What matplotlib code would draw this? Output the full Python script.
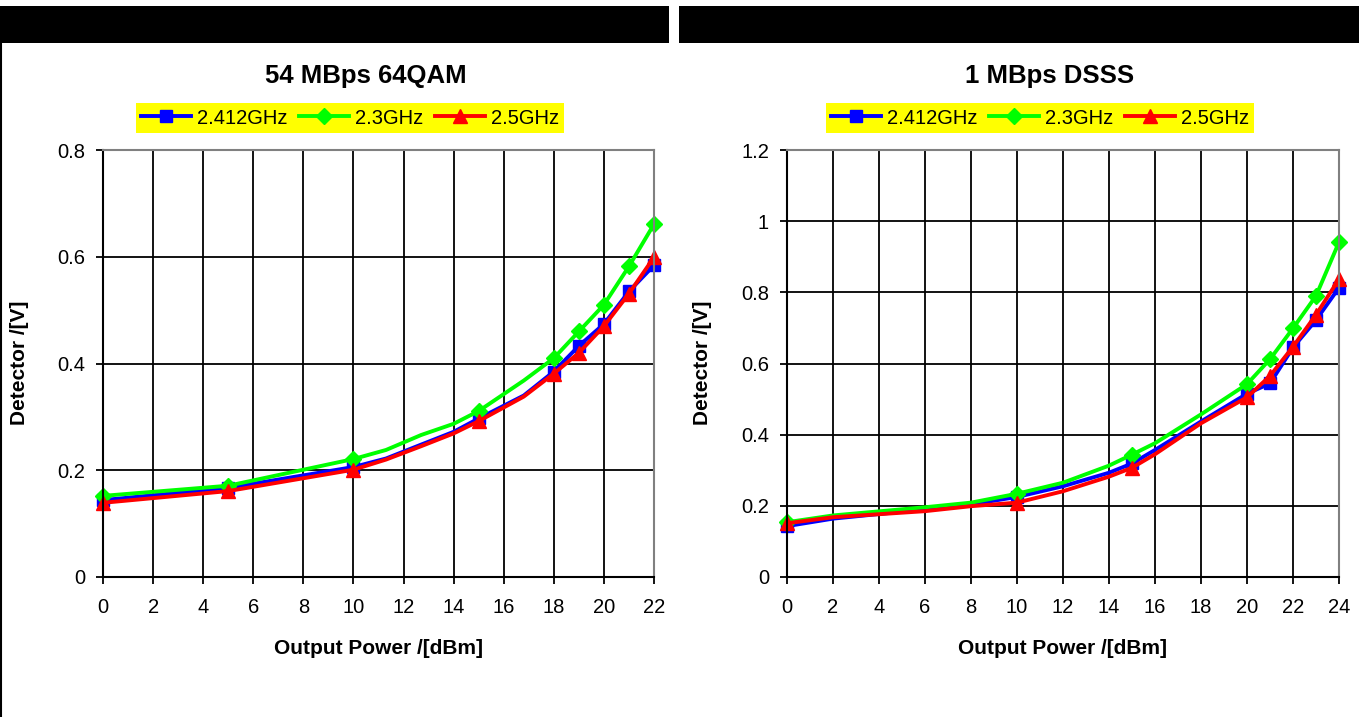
import matplotlib
matplotlib.use("Agg")
import matplotlib.pyplot as plt
from matplotlib.patches import Rectangle
from matplotlib.lines import Line2D

plt.rcParams['font.family'] = ['Liberation Sans', 'DejaVu Sans']

# ---------------- data ----------------
series_names = ["2.412GHz", "2.3GHz", "2.5GHz"]
series_colors = ["#0000FF", "#00FF00", "#FF0000"]
series_markers = ["s", "D", "^"]

# Left panel: 54 MBps 64QAM
left_title = "54 MBps 64QAM"
left_x = [0, 5, 10, 11.3, 12.7, 14, 15, 16.8, 18, 19, 20, 21, 22]
left_marker_x = [0, 5, 10, 15, 18, 19, 20, 21, 22]
left_blue = [0.144, 0.167, 0.206, 0.222, 0.248, 0.272, 0.297, 0.340, 0.385, 0.433, 0.474, 0.535, 0.584]
left_green = [0.152, 0.171, 0.221, 0.238, 0.266, 0.287, 0.311, 0.368, 0.410, 0.460, 0.510, 0.582, 0.661]
left_red = [0.139, 0.161, 0.201, 0.220, 0.245, 0.269, 0.292, 0.338, 0.381, 0.420, 0.470, 0.531, 0.599]
left_xticks = [0, 2, 4, 6, 8, 10, 12, 14, 16, 18, 20, 22]
left_yticks = [0, 0.2, 0.4, 0.6, 0.8]
left_ytick_labels = ["0", "0.2", "0.4", "0.6", "0.8"]

# Right panel: 1 MBps DSSS
right_title = "1 MBps DSSS"
right_x = [0, 2, 6, 8, 10, 12, 14, 15, 16, 18, 20, 21, 22, 23, 24]
right_marker_x = [0, 10, 15, 20, 21, 22, 23, 24]
right_blue = [0.143, 0.164, 0.190, 0.204, 0.225, 0.255, 0.293, 0.319, 0.357, 0.437, 0.515, 0.544, 0.645, 0.722, 0.813]
right_green = [0.154, 0.173, 0.196, 0.209, 0.234, 0.265, 0.313, 0.344, 0.376, 0.457, 0.542, 0.612, 0.699, 0.790, 0.941]
right_red = [0.151, 0.168, 0.185, 0.199, 0.209, 0.241, 0.282, 0.307, 0.345, 0.432, 0.505, 0.565, 0.647, 0.737, 0.837]
right_xticks = [0, 2, 4, 6, 8, 10, 12, 14, 16, 18, 20, 22, 24]
right_yticks = [0, 0.2, 0.4, 0.6, 0.8, 1.0, 1.2]
right_ytick_labels = ["0", "0.2", "0.4", "0.6", "0.8", "1", "1.2"]

x_label = "Output Power /[dBm]"
y_label = "Detector /[V]"

# ---------------- figure ----------------
W, H = 1359, 717
fig = plt.figure(figsize=(W / 100, H / 100), dpi=100)
fig.patch.set_facecolor("white")


def fx(px):
    return px / W


def fy(py):
    return 1 - py / H


# black header bars
fig.patches.append(Rectangle((fx(0), fy(43)), fx(669), (43 - 6) / H,
                             transform=fig.transFigure, facecolor="black", edgecolor="none"))
fig.patches.append(Rectangle((fx(679), fy(43)), fx(1359 - 679), (43 - 6) / H,
                             transform=fig.transFigure, facecolor="black", edgecolor="none"))
# left border line of left panel
fig.lines.append(Line2D([fx(1), fx(1)], [fy(43), fy(717)], transform=fig.transFigure,
                        color="black", lw=1.5))


def draw_panel(ax_rect, title, title_cx, legend_cx, xs, marker_x, ys_list, xticks, yticks,
               ytlabels, ylim, ylabel_x):
    ax = fig.add_axes(ax_rect)
    idx = [i for i, v in enumerate(xs) if v in marker_x]
    msizes = [8.5, 8, 10.5]
    for ys, c, m, name, ms in zip(ys_list, series_colors, series_markers, series_names, msizes):
        ax.plot(xs, ys, color=c, lw=2.8, marker=m, markersize=ms, markevery=idx,
                markerfacecolor=c, markeredgecolor=c, label=name, clip_on=False)
    ax.set_xlim(xticks[0], xticks[-1])
    ax.set_ylim(*ylim)
    ax.set_xticks(xticks)
    ax.set_xticklabels([str(t) for t in xticks])
    ax.set_yticks(yticks)
    ax.set_yticklabels(ytlabels)
    ax.grid(True, color="black", lw=1.3)
    ax.set_axisbelow(True)
    for s in ["left", "bottom"]:
        ax.spines[s].set_color("black")
        ax.spines[s].set_linewidth(1.5)
    for s in ["top", "right"]:
        ax.spines[s].set_color("#808080")
        ax.spines[s].set_linewidth(1.5)
    ax.tick_params(axis="both", direction="out", length=5, width=1.3, labelsize=14.5,
                   colors="black")
    ax.tick_params(axis="x", pad=10)
    ax.tick_params(axis="y", pad=8)
    fig.text(fx(title_cx), fy(76), title, ha="center", va="center",
             fontsize=18.5, fontweight="bold")
    fig.text(fx(ax_rect[0] * W + ax_rect[2] * W / 2), fy(648), x_label, ha="center",
             va="center", fontsize=15, fontweight="bold")
    fig.text(fx(ylabel_x), fy(363), y_label, ha="center", va="center", rotation=90,
             fontsize=15, fontweight="bold")
    ax.legend(loc="center", bbox_to_anchor=(fx(legend_cx), fy(118)),
              bbox_transform=fig.transFigure, ncol=3, fontsize=14.5,
              frameon=True, facecolor="#FFFF00", edgecolor="none", framealpha=1,
              fancybox=False, handlelength=2.5, handletextpad=0.3,
              columnspacing=0.55, borderpad=0.25, borderaxespad=0)
    return ax


draw_panel([fx(103), fy(577), (654 - 103) / W, (577 - 150) / H], left_title, 366, 350,
           left_x, left_marker_x, [left_blue, left_green, left_red], left_xticks,
           left_yticks, left_ytick_labels, (0, 0.8), 20)

draw_panel([fx(787), fy(577), (1339 - 787) / W, (577 - 150) / H], right_title, 1050, 1040,
           right_x, right_marker_x, [right_blue, right_green, right_red], right_xticks,
           right_yticks, right_ytick_labels, (0, 1.2), 703)

fig.savefig("out.png", dpi=100, facecolor="white")
